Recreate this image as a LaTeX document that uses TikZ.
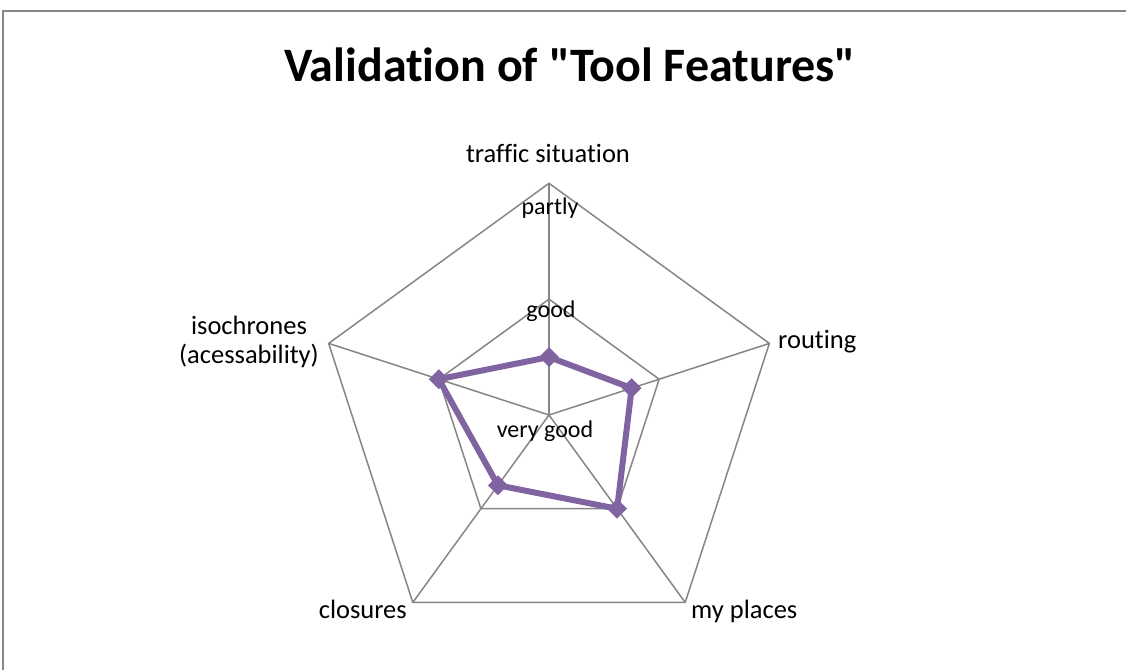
\documentclass[tikz,border=0pt]{standalone}
\usepackage{fontspec}
\setmainfont{Carlito}[Ligatures={TeXOff,NoCommon}]
\usetikzlibrary{shapes.geometric,calc}
\definecolor{gridgray}{RGB}{134,134,134}
\definecolor{serpurple}{RGB}{128,100,162}
\tikzset{
  gridline/.style={draw=gridgray,line width=1.5pt,line join=miter},
  dataline/.style={draw=serpurple,line width=6pt,line join=round},
  datamark/.style={diamond,fill=serpurple,inner sep=0pt,minimum width=20pt,minimum height=20pt},
  axlabel/.style={inner sep=0pt,font=\fontsize{26.5}{29}\selectfont},
  scalelabel/.style={inner sep=0pt,font=\fontsize{24}{27}\selectfont,anchor=base},
  titlelabel/.style={inner sep=0pt,font=\fontsize{48}{52}\selectfont\bfseries,anchor=base}
}
\begin{document}
\begin{tikzpicture}[x=1pt,y=1pt]
\useasboundingbox (0,0) rectangle (1126,670);
\fill[white] (0,0) rectangle (1126,670);
\draw[gridgray,line width=1.5pt] (3,0) -- (3,659) -- (1126,659);
\node[titlelabel] (title) at (570,588) {Validation of "Tool Features"};
\coordinate (c) at (549,255);
\def\R{115.85}
% axis vertices
\foreach \n/\a in {t/90,r/18,m/-54,cl/-126,i/162}{
  \coordinate (\n1) at ($(c)+(\a:\R)$);
  \coordinate (\n2) at ($(c)+(\a:2*\R)$);
}
% rings
\draw[gridline] (t1) -- (r1) -- (m1) -- (cl1) -- (i1) -- cycle;
\draw[gridline] (t2) -- (r2) -- (m2) -- (cl2) -- (i2) -- cycle;
% spokes
\foreach \n in {t,r,m,cl,i}{ \draw[gridline] (c) -- (\n2); }
% data
\coordinate (dt) at ($(c)+(90:0.5*\R)$);
\coordinate (dr) at ($(c)+(18:0.75*\R)$);
\coordinate (dm) at ($(c)+(-54:1.0*\R)$);
\coordinate (dc) at ($(c)+(-126:0.75*\R)$);
\coordinate (di) at ($(c)+(162:1.0*\R)$);
\draw[dataline] (dt) -- (dr) -- (dm) -- (dc) -- (di) -- cycle;
\foreach \p in {dt,dr,dm,dc,di}{ \node[datamark] (m\p) at (\p) {}; }
% scale labels
\node[scalelabel] (lpartly) at (550,455) {partly};
\node[scalelabel] (lgood) at (551,352) {good};
\node[scalelabel] (lvgood) at (545,233) {very good};
% axis labels
\node[axlabel,anchor=base] (ltraffic) at (548,507) {traffic situation};
\node[axlabel,anchor=base west] (lrouting) at (778,321) {routing};
\node[axlabel,anchor=base west] (lmyplaces) at (691,52) {my places};
\node[axlabel,anchor=base east] (lclosures) at (407,52) {closures};
\node[axlabel,align=center,anchor=center] (liso) at (249,328) {isochrones\\(acessability)};
\end{tikzpicture}
\end{document}
